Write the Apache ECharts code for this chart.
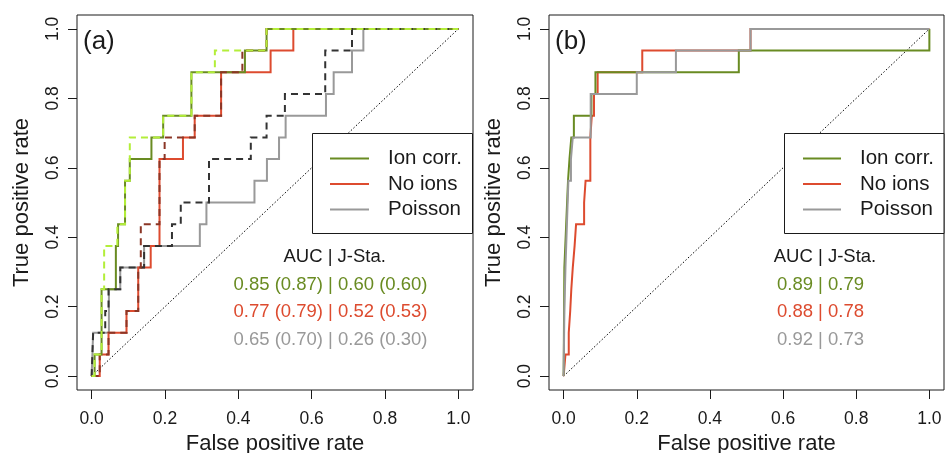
<!DOCTYPE html>
<html><head><meta charset="utf-8">
<script src="https://cdn.jsdelivr.net/npm/echarts@6/dist/echarts.min.js"></script>
<style>html,body{margin:0;padding:0;background:#fff}#c{width:945px;height:453px}</style>
</head><body><div id="c"></div>
<script>
// ---------- text ----------
const tickValues = [0, 0.2, 0.4, 0.6, 0.8, 1.0];
const legendLabels = ['Ion corr.', 'No ions', 'Poisson'];
const panelLabels = ['(a)', '(b)'];
const xTitle = 'False positive rate';
const yTitle = 'True positive rate';
const aucHeader = 'AUC | J-Sta.';
const aucTextA = ['0.85 (0.87) | 0.60 (0.60)', '0.77 (0.79) | 0.52 (0.53)', '0.65 (0.70) | 0.26 (0.30)'];
const aucTextB = ['0.89 | 0.79', '0.88 | 0.78', '0.92 | 0.73'];

// ---------- ROC curves, panel (a) ----------
const ionA_fpr = [0.008, 0.027, 0.066, 0.072, 0.091, 0.104, 0.163, 0.195, 0.272, 0.418, 0.477, 1];
const ionA_tpr = [0.0625, 0.25, 0.375, 0.4375, 0.5625, 0.625, 0.6875, 0.75, 0.875, 0.9375, 1, 1];
const ionA2_fpr = [0.008, 0.027, 0.034, 0.07, 0.091, 0.104, 0.195, 0.272, 0.336, 0.477, 1];
const ionA2_tpr = [0.0625, 0.25, 0.375, 0.4375, 0.5625, 0.6875, 0.75, 0.875, 0.9375, 1, 1];
const noA_fpr = [0.022, 0.046, 0.095, 0.127, 0.161, 0.185, 0.249, 0.281, 0.353, 0.488, 0.55, 1];
const noA_tpr = [0.0625, 0.125, 0.1875, 0.3125, 0.375, 0.625, 0.6875, 0.75, 0.875, 0.9375, 1, 1];
const noA2_fpr = [0.022, 0.046, 0.095, 0.127, 0.134, 0.185, 0.199, 0.281, 0.353, 0.411, 0.477, 1];
const noA2_tpr = [0.0625, 0.125, 0.1875, 0.3125, 0.4375, 0.625, 0.6875, 0.75, 0.875, 0.9375, 1, 1];
const poisA_fpr = [0.004, 0.047, 0.078, 0.143, 0.295, 0.313, 0.444, 0.478, 0.511, 0.529, 0.639, 0.66, 0.71, 0.741, 1];
const poisA_tpr = [0.125, 0.25, 0.3125, 0.375, 0.4375, 0.5, 0.5625, 0.625, 0.6875, 0.75, 0.8125, 0.875, 0.9375, 1, 1];
const poisA2_fpr = [0.004, 0.037, 0.046, 0.078, 0.143, 0.219, 0.243, 0.32, 0.434, 0.477, 0.527, 0.637, 0.71, 1];
const poisA2_tpr = [0.125, 0.1875, 0.25, 0.3125, 0.375, 0.4375, 0.5, 0.625, 0.6875, 0.75, 0.8125, 0.9375, 1, 1];

// ---------- ROC curves, panel (b) ----------
const ionB_fpr = [0.002, 0.007, 0.012, 0.016, 0.021, 0.028, 0.076, 0.087, 0.479, 1];
const ionB_tpr = [0.3125, 0.4375, 0.5625, 0.625, 0.6875, 0.75, 0.8125, 0.875, 0.9375, 1];
const noB_fpr = [0.005, 0.014, 0.018, 0.021, 0.025, 0.03, 0.034, 0.056, 0.06, 0.073, 0.077, 0.083, 0.093, 0.215, 0.511, 1];
const noB_tpr = [0.0625, 0.125, 0.1875, 0.25, 0.3125, 0.375, 0.4375, 0.5, 0.5625, 0.6875, 0.75, 0.8125, 0.875, 0.9375, 1, 1];
const poisB_fpr = [0.002, 0.005, 0.009, 0.013, 0.02, 0.025, 0.074, 0.2, 0.307, 0.511, 1];
const poisB_tpr = [0.1875, 0.3125, 0.4375, 0.5625, 0.625, 0.6875, 0.8125, 0.875, 0.9375, 1, 1];

const diagonal = [[0, 0], [1, 1]];

// ---------- styles ----------
const FONT = '"Liberation Sans", Arial, sans-serif';
const C_ION = '#698B22', C_ION2 = '#B3EE3A';
const C_NO = '#DD4B2F', C_NO2 = '#8B3626';
const C_POI = '#999999', C_POI2 = '#333333';
const INK = '#1a1a1a';

function stairs(fpr, tpr) {
  const pts = [[0, 0]];
  let py = 0;
  for (let i = 0; i < fpr.length; i++) {
    pts.push([fpr[i], py]);
    pts.push([fpr[i], tpr[i]]);
    py = tpr[i];
  }
  return pts;
}
function curve(name, fpr, tpr, color, dashed, gi, z) {
  return {
    type: 'line', name, xAxisIndex: gi, yAxisIndex: gi, data: stairs(fpr, tpr),
    symbol: 'none', showSymbol: false, silent: true, z, animation: false,
    lineStyle: { color, width: 2, type: dashed ? [7, 5] : 'solid', cap: 'butt', join: 'miter' }
  };
}
function diag(gi) {
  return { type: 'line', xAxisIndex: gi, yAxisIndex: gi, data: diagonal, symbol: 'none', silent: true, z: 1,
    lineStyle: { color: '#000', width: 1, type: [1.5, 2] } };
}

const grids = [
  { left: 77, top: 15, width: 396, height: 375, show: true, borderColor: INK, borderWidth: 1, backgroundColor: 'transparent', outerBoundsMode: 'none', containLabel: false },
  { left: 549, top: 15, width: 395, height: 375, show: true, borderColor: INK, borderWidth: 1, backgroundColor: 'transparent', outerBoundsMode: 'none', containLabel: false }
];
const fmt = v => v.toFixed(1);
const xAxes = [0, 1].map(i => ({
  type: 'value', gridIndex: i, min: -0.04, max: 1.04,
  axisLine: { show: false, onZero: false }, splitLine: { show: false },
  axisTick: { show: true, customValues: tickValues, length: 9, lineStyle: { color: INK, width: 1 } },
  axisLabel: { customValues: tickValues, formatter: fmt, fontSize: 17.5, color: INK, margin: 20, fontFamily: FONT },
  name: xTitle, nameLocation: 'middle', nameGap: 41,
  nameTextStyle: { fontSize: 22, color: INK, fontFamily: FONT }
}));
const yAxes = [0, 1].map(i => ({
  type: 'value', gridIndex: i, min: -0.04, max: 1.04,
  axisLine: { show: false, onZero: false }, splitLine: { show: false },
  axisTick: { show: true, customValues: tickValues, length: 9, lineStyle: { color: INK, width: 1 } },
  axisLabel: { customValues: tickValues, formatter: fmt, fontSize: 17.5, color: INK, margin: 15, rotate: 90, fontFamily: FONT },
  name: yTitle, nameLocation: 'middle', nameGap: 44,
  nameTextStyle: { fontSize: 22, color: INK, fontFamily: FONT }
}));

const series = [
  diag(0), diag(1),
  curve('Poisson', poisA_fpr, poisA_tpr, C_POI, false, 0, 3),
  curve('No ions', noA_fpr, noA_tpr, C_NO, false, 0, 4),
  curve('Ion corr.', ionA_fpr, ionA_tpr, C_ION, false, 0, 5),
  curve('Poisson (dashed)', poisA2_fpr, poisA2_tpr, C_POI2, true, 0, 6),
  curve('No ions (dashed)', noA2_fpr, noA2_tpr, C_NO2, true, 0, 7),
  curve('Ion corr. (dashed)', ionA2_fpr, ionA2_tpr, C_ION2, true, 0, 8),
  curve('No ions', noB_fpr, noB_tpr, C_NO, false, 1, 3),
  curve('Ion corr.', ionB_fpr, ionB_tpr, C_ION, false, 1, 4),
  curve('Poisson', poisB_fpr, poisB_tpr, C_POI, false, 1, 5)
];

// ---------- legends and annotations ----------
const legendColors = [C_ION, C_NO, C_POI];
const rowY = [158.5, 184, 209.5];
function legendBox(bx, bw, lx0, lx1, tx) {
  const els = [{ type: 'rect', z: 100, shape: { x: bx, y: 133.5, width: bw, height: 100 },
    style: { fill: '#fff', stroke: INK, lineWidth: 1 } }];
  legendLabels.forEach((t, i) => {
    els.push({ type: 'line', z: 101, shape: { x1: lx0, y1: rowY[i], x2: lx1, y2: rowY[i] },
      style: { stroke: legendColors[i], lineWidth: 2 } });
    els.push({ type: 'text', z: 101, x: tx, y: rowY[i],
      style: { text: t, fill: INK, fontSize: 20.5, fontFamily: FONT, align: 'left', verticalAlign: 'middle' } });
  });
  return els;
}
function aucBlock(cxH, cx, lines) {
  const els = [{ type: 'text', z: 100, x: cxH, y: 256.7,
    style: { text: aucHeader, fill: INK, fontSize: 18.5, fontFamily: FONT, align: 'center', verticalAlign: 'middle' } }];
  const ys = [285, 311.7, 340];
  lines.forEach((t, i) => els.push({ type: 'text', z: 100, x: cx, y: ys[i],
    style: { text: t, fill: legendColors[i], fontSize: 18.5, fontFamily: FONT, align: 'center', verticalAlign: 'middle' } }));
  return els;
}
const graphic = [
  { type: 'text', z: 100, x: 83, y: 42, style: { text: panelLabels[0], fill: INK, fontSize: 26, fontFamily: FONT, align: 'left', verticalAlign: 'middle' } },
  { type: 'text', z: 100, x: 555, y: 42, style: { text: panelLabels[1], fill: INK, fontSize: 26, fontFamily: FONT, align: 'left', verticalAlign: 'middle' } },
  ...legendBox(312.5, 160, 330, 369, 388),
  ...legendBox(784.5, 159.5, 803, 841, 860),
  ...aucBlock(334.7, 330.5, aucTextA),
  ...aucBlock(825, 820.5, aucTextB)
];

const chart = echarts.init(document.getElementById('c'), null, { renderer: 'canvas' });
chart.setOption({
  backgroundColor: '#fff', animation: false,
  grid: grids, xAxis: xAxes, yAxis: yAxes, series, graphic
});
</script></body></html>
